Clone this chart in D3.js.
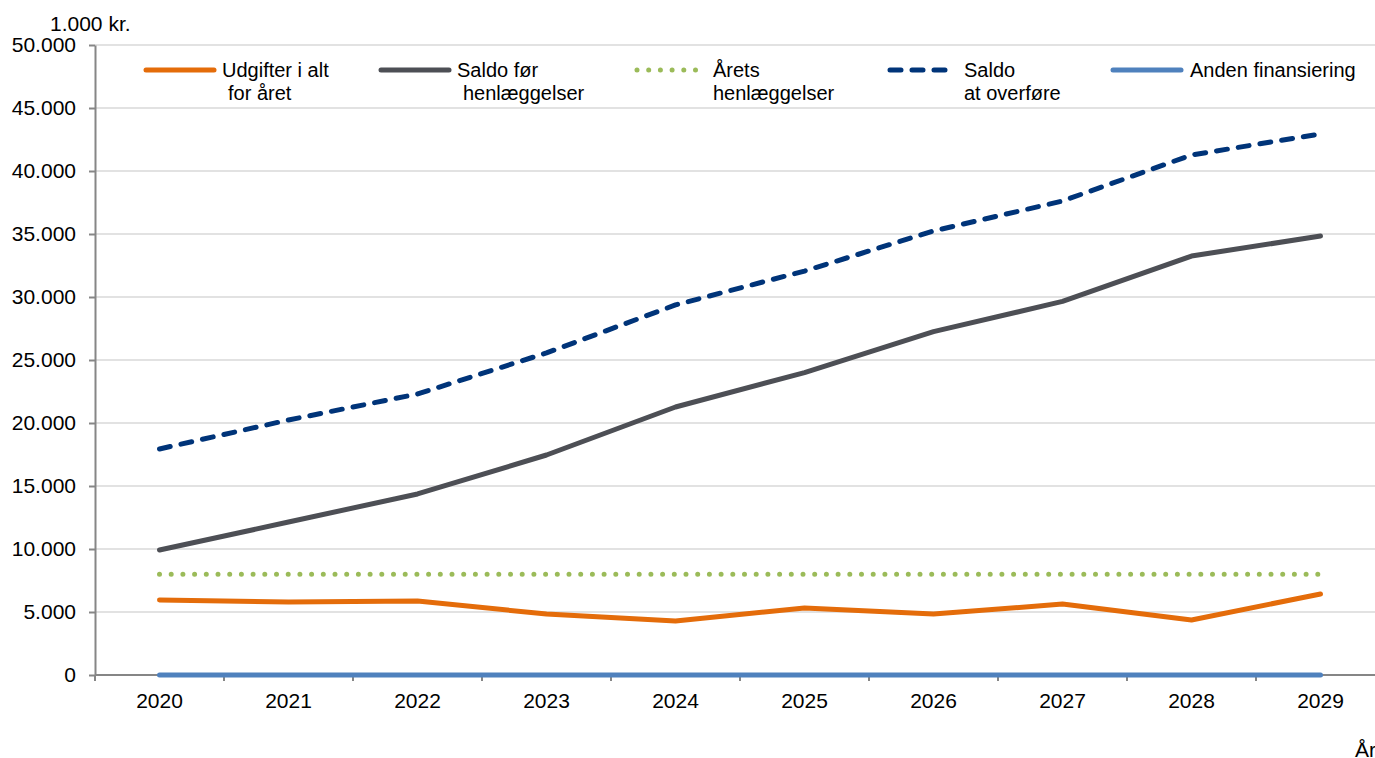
<!DOCTYPE html>
<meta charset="utf-8">
<style>
  body { margin: 0; background: white; }
  svg text { font-family: "Liberation Sans", Arial, sans-serif; fill: #000; }
  .grid line { stroke: #d9d9d9; stroke-width: 1.3px; }
  .axis path, .axis line { stroke: #868686; stroke-width: 2px; }
</style>
<body>
<svg width="1375" height="758"></svg>
<script src="https://d3js.org/d3.v7.min.js"></script>
<script>

// data (1.000 kr.)
var years = ["2020","2021","2022","2023","2024","2025","2026","2027","2028","2029"];
var udgifter = [5950, 5800, 5870, 4840, 4290, 5320, 4840, 5630, 4370, 6430];
var saldoFoer = [9920, 12140, 14370, 17460, 21270, 24000, 27250, 29650, 33250, 34840];
var aaretsHenl = [8000, 8000, 8000, 8000, 8000, 8000, 8000, 8000, 8000, 8000];
var saldoOverfoere = [17940, 20240, 22300, 25560, 29370, 32060, 35240, 37620, 41270, 42940];
var andenFin = [0, 0, 0, 0, 0, 0, 0, 0, 0, 0];
var yTicks = [0, 5000, 10000, 15000, 20000, 25000, 30000, 35000, 40000, 45000, 50000];

var series = [
  {name: ["Udgifter i alt", "for året"], values: udgifter, color: "#e46c0a", dash: null, lx: 146, len: 68, tx: 222, tx2: 228},
  {name: ["Saldo før", "henlæggelser"], values: saldoFoer, color: "#4d4f55", dash: null, lx: 381, len: 68, tx: 457, tx2: 463},
  {name: ["Årets", "henlæggelser"], values: aaretsHenl, color: "#9bbb59", dash: "0,11.7", lx: 637, len: 62, tx: 713, tx2: 713},
  {name: ["Saldo", "at overføre"], values: saldoOverfoere, color: "#003479", dash: "11,11", lx: 890, len: 55, tx: 964, tx2: 964},
  {name: ["Anden finansiering"], values: andenFin, color: "#4f81bd", dash: null, lx: 1113, len: 68, tx: 1190}
];
// draw order: blue at bottom
var drawOrder = [4, 2, 1, 3, 0];

var svg = d3.select("svg");
var mLeft = 95, mRight = 1385, mTop = 45, mBottom = 675;

var x = d3.scaleBand().domain(years).range([mLeft, mRight]);
var y = d3.scaleLinear().domain([0, 50000]).range([mBottom, mTop]);
var fmt = d3.formatLocale({decimal: ",", thousands: ".", grouping: [3], currency: ["", " kr."]}).format(",d");

// gridlines
svg.append("g").attr("class", "grid")
  .selectAll("line").data(yTicks.filter(d => d > 0)).enter().append("line")
  .attr("x1", mLeft).attr("x2", 1375)
  .attr("y1", d => y(d)).attr("y2", d => y(d));

// y axis
var yAxis = svg.append("g").attr("class", "axis")
  .attr("transform", "translate(" + mLeft + ",0)")
  .call(d3.axisLeft(y).tickValues(yTicks).tickSize(6).tickSizeOuter(0).tickPadding(13).tickFormat(fmt));
yAxis.selectAll("text").style("font-size", "21px");

// x axis line + ticks at the band edges
var xg = svg.append("g").attr("class", "axis");
xg.append("line").attr("x1", mLeft).attr("x2", 1375).attr("y1", mBottom).attr("y2", mBottom);
xg.selectAll(".xt").data(years).enter().append("line").attr("class", "xt")
  .attr("x1", d => x(d)).attr("x2", d => x(d))
  .attr("y1", mBottom).attr("y2", mBottom + 6);
xg.selectAll("text").data(years).enter().append("text")
  .attr("x", d => x(d) + x.bandwidth() / 2).attr("y", 708)
  .attr("text-anchor", "middle").style("font-size", "21px")
  .text(d => d);

svg.append("text").attr("x", 50).attr("y", 31).style("font-size", "21px").text("1.000 kr.");
svg.append("text").attr("x", 1355).attr("y", 757).style("font-size", "21px").text("År");

var line = d3.line()
  .x((d, i) => x(years[i]) + x.bandwidth() / 2)
  .y(d => y(d));

drawOrder.forEach(function(k) {
  var s = series[k];
  svg.append("path")
    .datum(s.values)
    .attr("d", line)
    .attr("fill", "none")
    .attr("stroke", s.color)
    .attr("stroke-width", 5)
    .attr("stroke-linecap", "round")
    .attr("stroke-linejoin", "round")
    .attr("stroke-dasharray", s.dash);
});

// legend
var lg = svg.append("g");
series.forEach(function(s) {
  lg.append("line")
    .attr("x1", s.lx).attr("x2", s.lx + s.len)
    .attr("y1", 70).attr("y2", 70)
    .attr("stroke", s.color).attr("stroke-width", 5)
    .attr("stroke-linecap", "round")
    .attr("stroke-dasharray", s.dash);
  lg.append("text").attr("x", s.tx).attr("y", 77).style("font-size", "20px").text(s.name[0]);
  if (s.name[1]) {
    lg.append("text").attr("x", s.tx2).attr("y", 100).style("font-size", "20px").text(s.name[1]);
  }
});

</script>
